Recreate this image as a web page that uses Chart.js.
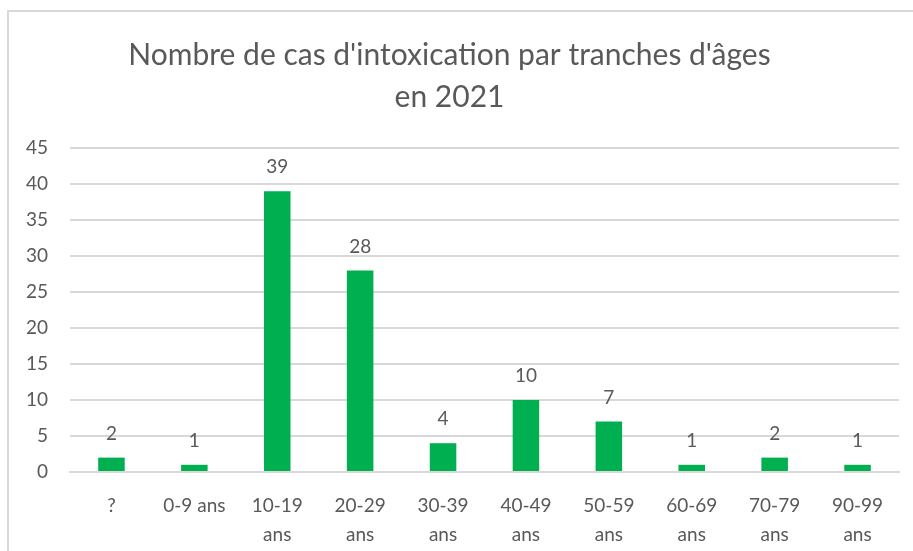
<!doctype html>
<html>

<head>
    <title>Intoxications 2021</title>
    <meta name="viewport" content="width=device-width, initial-scale=1">
    <script src="https://cdn.jsdelivr.net/npm/chart.js"></script>
    <style>
        body {
            margin: 0;
            background-color: white;
            overflow: hidden
        }

        .frame {
            position: absolute;
            left: 7px;
            top: 10px;
            width: 940px;
            height: 600px;
            border: 2px solid #d9d9d9;
            pointer-events: none
        }

        .holder {
            position: absolute;
            left: 0;
            top: 0;
            width: 913px;
            height: 551px
        }
    </style>
</head>

<body>
    <div class="holder"><canvas id="chart"></canvas></div>
    <div class="frame"></div>
    <script>
        const ageGroups = [['?'], ['0-9 ans'], ['10-19', 'ans'], ['20-29', 'ans'], ['30-39', 'ans'], ['40-49', 'ans'], ['50-59', 'ans'], ['60-69', 'ans'], ['70-79', 'ans'], ['90-99', 'ans']]
        const cases = [2, 1, 39, 28, 4, 10, 7, 1, 2, 1]
        const titleLines = ["Nombre de cas d'intoxication par tranches d'âges", 'en 2021']

        const grey = '#595959'
        const font = "Lato, 'Open Sans', sans-serif"

        // draw the value above each bar
        const valueLabels = {
            id: 'valueLabels',
            afterDatasetsDraw(chart) {
                const ctx = chart.ctx
                const meta = chart.getDatasetMeta(0)
                ctx.save()
                ctx.fillStyle = grey
                ctx.font = `19px ${font}`
                ctx.textAlign = 'center'
                ctx.textBaseline = 'middle'
                meta.data.forEach((bar, i) => {
                    ctx.fillText(cases[i], bar.x, bar.y - 24)
                })
                ctx.restore()
            }
        }

        const myChart = new Chart(
            document.getElementById('chart'),
            {
                type: 'bar',
                data: {
                    labels: ageGroups,
                    datasets: [{
                        data: cases,
                        backgroundColor: '#00b050',
                        categoryPercentage: 1,
                        barPercentage: 0.32
                    }]
                },
                options: {
                    responsive: true,
                    maintainAspectRatio: false,
                    animation: false,
                    layout: { padding: { left: 0, right: 14, top: 0, bottom: 0 } },
                    scales: {
                        x: {
                            grid: { display: false },
                            border: { color: '#d9d9d9', width: 2 },
                            ticks: { color: grey, font: { family: font, size: 19, lineHeight: 1.55 }, maxRotation: 0, padding: 11 },
                            afterFit: (scale) => { scale.height = 79 }
                        },
                        y: {
                            min: 0,
                            max: 45,
                            ticks: { stepSize: 5, color: grey, font: { family: font, size: 19 }, padding: 22 },
                            grid: { color: '#d9d9d9', lineWidth: 2, drawTicks: false },
                            border: { display: false },
                            afterFit: (scale) => { scale.width = 70 }
                        }
                    },
                    plugins: {
                        legend: { display: false },
                        tooltip: { enabled: false },
                        title: {
                            display: true,
                            text: titleLines,
                            color: grey,
                            font: { family: font, size: 30, weight: 'normal', lineHeight: 1.4 },
                            padding: { top: 34, bottom: 30 }
                        }
                    }
                },
                plugins: [valueLabels]
            }
        );
    </script>
</body>

</html>
